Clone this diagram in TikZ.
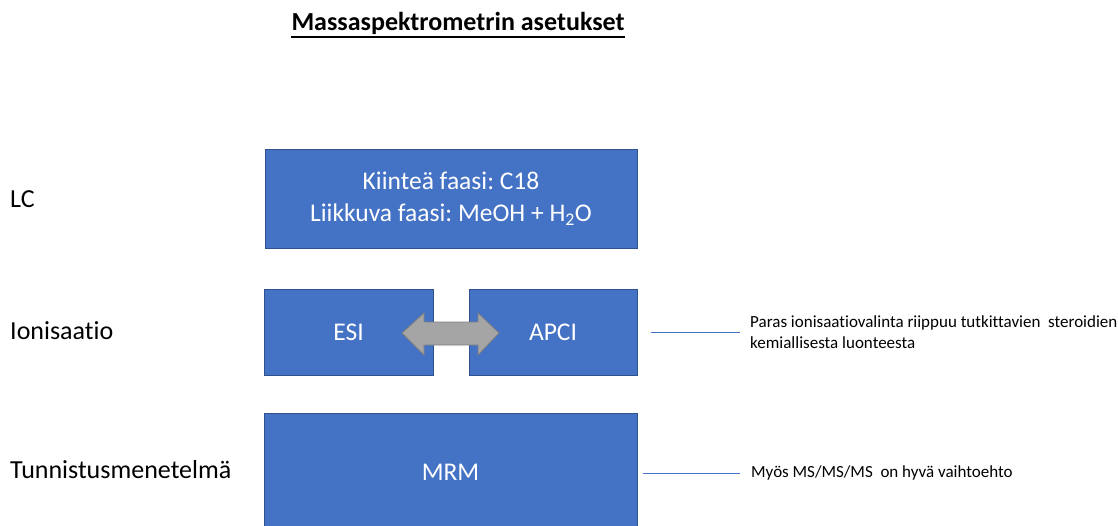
\documentclass[tikz,border=0pt]{standalone}
\usepackage{fontspec}
\setmainfont{Carlito}[Ligatures={NoCommon}]
\frenchspacing
\definecolor{boxblue}{HTML}{4472C4}
\definecolor{boxedge}{HTML}{2F528F}
\definecolor{arrgray}{HTML}{A5A5A5}
\definecolor{arredge}{HTML}{7F7F7F}
\begin{document}
\begin{tikzpicture}[x=1pt,y=-1pt,
  bluebox/.style={fill=boxblue, draw=boxedge, line width=0.9pt, text=white, align=center, inner sep=0pt,
    font=\fontsize{25.5}{32}\selectfont},
  rowlabel/.style={anchor=base west, inner sep=0pt, font=\fontsize{26}{30}\selectfont},
  note/.style={inner sep=0pt, align=left, font=\fontsize{17}{21}\selectfont},
  noteline/.style={draw=boxblue, line width=0.8pt}]
\useasboundingbox (0,0) rectangle (1118,525);
\clip (0,0) rectangle (1118,525);

% title
\node[inner sep=0pt, anchor=base, font=\bfseries\fontsize{26}{30}\selectfont] (title) at (458,30.5) {Massaspektrometrin asetukset};
\draw[line width=2pt] ([yshift=-6.5pt]title.base west) -- ([yshift=-6.5pt]title.base east);

% row labels
\node[rowlabel] (lLC) at (10,207) {LC};
\node[rowlabel] (lIon) at (10,339) {Ionisaatio};
\node[rowlabel] (lTun) at (10,478) {Tunnistusmenetelmä};

% boxes
\node[bluebox, minimum width=372, minimum height=99] (lc) at (451,198.5)
  {Kiinteä faasi: C18\\Liikkuva faasi: MeOH + H\textsubscript{2}O};
\node[bluebox, minimum width=169, minimum height=86] (esi) at (348.5,332) {ESI};
\node[bluebox, minimum width=168, minimum height=86] (apci) at (553,332) {APCI};
\node[bluebox, minimum width=373, minimum height=118] (mrm) at (450.5,472) {MRM};

% double arrow
\draw[fill=arrgray, draw=arredge, line width=0.8pt]
  (402,333) -- (424,313) -- (424,322) -- (478,322) -- (478,313) -- (499,333)
  -- (478,355) -- (478,345) -- (424,345) -- (424,355) -- cycle;

% annotations
\node[note, anchor=north west] (n1) at (750,315)
  {Paras ionisaatiovalinta riippuu tutkittavien\ \ steroidien\\kemiallisesta luonteesta};
\coordinate (c1) at (651,332);
\draw[noteline] (c1) -- ([xshift=-10pt]n1.west |- c1);

\node[note, anchor=base west] (n2) at (751,477) {Myös MS/MS/MS\ \ on\ hyvä vaihtoehto};
\coordinate (c2) at (643,473);
\draw[noteline] (c2) -- ([xshift=-11pt]n2.west |- c2);
\end{tikzpicture}
\end{document}
